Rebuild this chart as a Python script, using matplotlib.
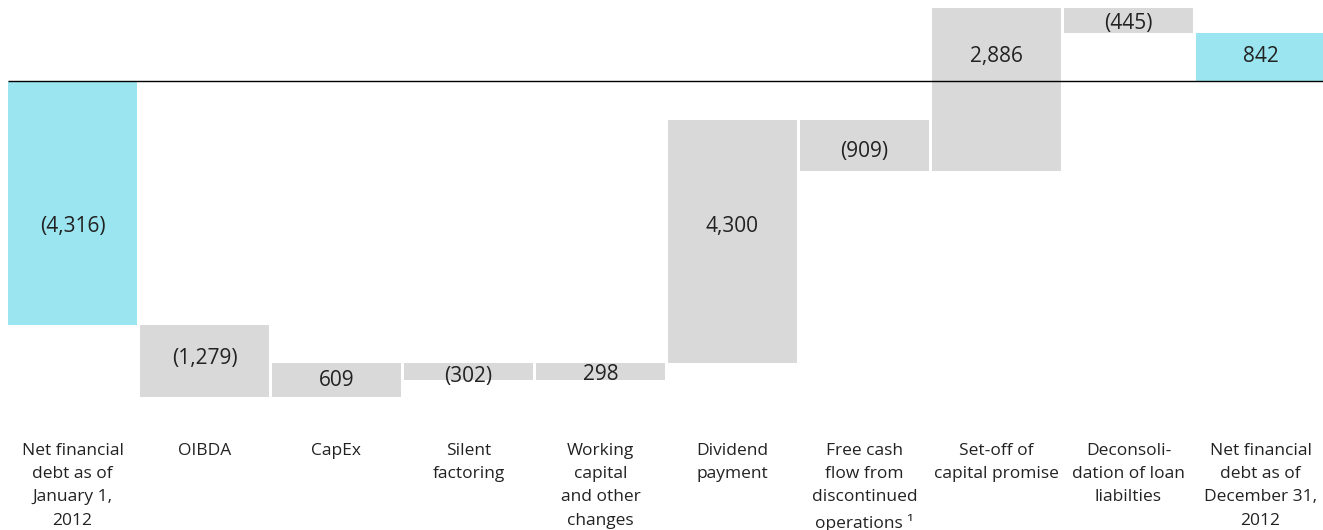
import matplotlib
matplotlib.use("Agg")
import matplotlib.pyplot as plt
import matplotlib.transforms as mtransforms

# Net financial debt bridge, 2012 (millions of €)
categories = [
    "Net financial\ndebt as of\nJanuary 1,\n2012",
    "OIBDA",
    "CapEx",
    "Silent\nfactoring",
    "Working\ncapital\nand other\nchanges",
    "Dividend\npayment",
    "Free cash\nflow from\ndiscontinued\noperations \u00b9",
    "Set-off of\ncapital promise",
    "Deconsoli-\ndation of loan\nliabilties",
    "Net financial\ndebt as of\nDecember 31,\n2012",
]
opening = -4316
changes = [-1279, 609, -302, 298, 4300, -909, 2886, -445]
closing = 842

value_labels = ["(4,316)", "(1,279)", "609", "(302)", "298",
                "4,300", "(909)", "2,886", "(445)", "842"]
# vertical placement of the value labels (data units)
label_y = [-2580, -4905, -5295, -5224, -5189, -2580, -1243, 438, 1022, 438]

CYAN = "#9ae5ef"
GREY = "#d9d9d9"
TEXT = "#222222"
FONT = "Open Sans"

# bar extents
bottoms, heights, colors = [0], [opening], [CYAN]
running = opening
for c in changes:
    bottoms.append(running)
    heights.append(c)
    colors.append(GREY)
    running += c
bottoms.append(0)
heights.append(closing)
colors.append(CYAN)

fig = plt.figure(figsize=(13.23, 5.30), dpi=100)
ax = fig.add_axes([0, 0, 1, 1])
ax.set_axis_off()

slot = 132.0
ax.set_xlim(-72.5 / slot, (1323 - 72.5) / slot)
scale = 0.05652  # px per unit
ax.set_ylim(-(530 - 81) / scale, 81 / scale)

xs = list(range(len(categories)))
ax.bar(xs, heights, bottom=bottoms, width=129 / slot, color=colors,
       linewidth=0, zorder=1)

# zero line
ax.plot([-64.5 / slot, (1323 - 72.5) / slot], [0, 0], color="black",
        lw=1.0, zorder=3, solid_capstyle="butt")

for x, txt, y in zip(xs, value_labels, label_y):
    ax.text(x, y, txt, ha="center", va="center", fontsize=15,
            family=FONT, color=TEXT, zorder=4)

trans = mtransforms.blended_transform_factory(ax.transData, ax.transAxes)
for x, cat in zip(xs, categories):
    ax.text(x, 1 - 443 / 530, cat, transform=trans, ha="center", va="top",
            fontsize=12.5, family=FONT, color=TEXT, linespacing=1.6)

fig.savefig("out.png", dpi=100, facecolor="white")
